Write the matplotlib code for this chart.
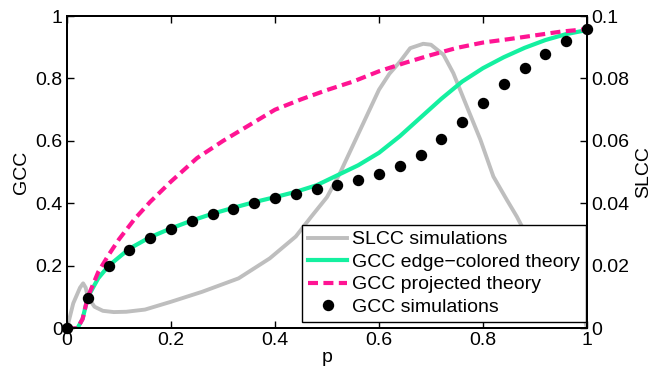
import matplotlib
matplotlib.use('Agg')
import matplotlib.pyplot as plt

plt.rcParams['font.family'] = ['Liberation Sans', 'DejaVu Sans']

# GCC simulations (left axis)
sim_p = [0, 0.04, 0.08, 0.12, 0.16, 0.20, 0.24, 0.28, 0.32, 0.36, 0.40, 0.44, 0.48,
         0.52, 0.56, 0.60, 0.64, 0.68, 0.72, 0.76, 0.80, 0.84, 0.88, 0.92, 0.96, 1.0]
sim_gcc = [0, 0.098, 0.20, 0.252, 0.289, 0.318, 0.343, 0.365, 0.383, 0.401, 0.417, 0.431, 0.446,
           0.458, 0.475, 0.495, 0.521, 0.555, 0.606, 0.661, 0.720, 0.782, 0.832, 0.879, 0.920, 0.958]

# GCC edge-colored theory
edge_p = [0, 0.02, 0.03, 0.04, 0.06, 0.08, 0.12, 0.16, 0.20, 0.24, 0.28, 0.32, 0.36, 0.40,
          0.44, 0.48, 0.52, 0.56, 0.60, 0.64, 0.68, 0.72, 0.76, 0.80, 0.84, 0.88, 0.92, 0.96, 1.0]
edge_gcc = [0, 0, 0.03, 0.10, 0.16, 0.20, 0.255, 0.292, 0.320, 0.345, 0.367, 0.386, 0.404, 0.420,
            0.437, 0.458, 0.490, 0.522, 0.562, 0.615, 0.675, 0.735, 0.790, 0.833, 0.868, 0.898, 0.923, 0.942, 0.955]

# GCC projected theory
proj_p = [0, 0.02, 0.03, 0.04, 0.06, 0.08, 0.10, 0.13, 0.16, 0.20, 0.25, 0.30, 0.35, 0.40,
          0.45, 0.50, 0.55, 0.60, 0.65, 0.70, 0.75, 0.80, 0.85, 0.90, 0.95, 1.0]
proj_gcc = [0, 0, 0.03, 0.10, 0.18, 0.235, 0.285, 0.35, 0.405, 0.47, 0.545, 0.60, 0.65, 0.70,
            0.733, 0.763, 0.79, 0.823, 0.85, 0.875, 0.898, 0.915, 0.926, 0.938, 0.95, 0.958]

# SLCC simulations (right axis)
slcc_p = [0, 0.012, 0.025, 0.031, 0.036, 0.04, 0.053, 0.069, 0.09, 0.114, 0.15, 0.20, 0.26,
          0.33, 0.39, 0.44, 0.47, 0.50, 0.525, 0.564, 0.60, 0.62, 0.64, 0.66, 0.685, 0.70, 0.724,
          0.743, 0.769, 0.795, 0.82, 0.846, 0.865, 0.88, 0.92, 0.95, 0.98, 0.993, 1.0]
slcc = [0, 0.008, 0.013, 0.0144, 0.013, 0.010, 0.0069, 0.0056, 0.0052, 0.0053, 0.006, 0.0085, 0.0117,
        0.016, 0.0224, 0.0294, 0.0358, 0.042, 0.0497, 0.0636, 0.0764, 0.0815, 0.0853, 0.0897, 0.0911, 0.0908, 0.0876,
        0.0817, 0.071, 0.0604, 0.0486, 0.0411, 0.0358, 0.031, 0.019, 0.012, 0.007, 0.0048, 0]

left_ticks = [0, 0.2, 0.4, 0.6, 0.8, 1]
left_labels = ['0', '0.2', '0.4', '0.6', '0.8', '1']
right_ticks = [0, 0.02, 0.04, 0.06, 0.08, 0.1]
right_labels = ['0', '0.02', '0.04', '0.06', '0.08', '0.1']

fig = plt.figure(figsize=(6.64, 3.73), dpi=100)
ax = fig.add_axes([0.1009, 0.1198, 0.7831, 0.8373])
ax2 = ax.twinx()
ax.set_zorder(ax2.get_zorder() + 1)
ax.patch.set_visible(False)

g, = ax2.plot(slcc_p, slcc, color='#bebebe', lw=2.8, label='SLCC simulations')
e, = ax.plot(edge_p, edge_gcc, color='#14f0a0', lw=3, label='GCC edge\u2212colored theory')
pr, = ax.plot(proj_p, proj_gcc, color='#ff1493', lw=3, ls=(0, (2.4, 1.3)), label='GCC projected theory')
s, = ax.plot(sim_p, sim_gcc, 'o', color='black', ms=7.2, label='GCC simulations', clip_on=False)

ax.set_xlim(0, 1)
ax.set_ylim(0, 1)
ax2.set_ylim(0, 0.1)
ax.set_xticks(left_ticks)
ax.set_xticklabels(left_labels)
ax.set_yticks(left_ticks)
ax.set_yticklabels(left_labels)
ax2.set_yticks(right_ticks)
ax2.set_yticklabels(right_labels)

ax.tick_params(direction='in', length=5, width=1, labelsize=14, pad=3, top=True)
ax2.tick_params(direction='in', length=5, width=1, labelsize=14, pad=3)
for a in (ax, ax2):
    for sp in a.spines.values():
        sp.set_linewidth(1.4)

ax.set_xlabel('p', fontsize=14, labelpad=0)
ax.set_ylabel('GCC', fontsize=14, labelpad=4)
ax2.set_ylabel('SLCC', fontsize=14, labelpad=4)

leg = ax.legend(handles=[g, e, pr, s], loc='upper left', bbox_to_anchor=(0.4524, 0.331),
                borderaxespad=0, fancybox=False, edgecolor='black', framealpha=1,
                fontsize=14, handlelength=2.0, handletextpad=0.25, labelspacing=0.25,
                borderpad=0.3, numpoints=1)
leg.get_frame().set_linewidth(1.0)

fig.savefig('out.png', dpi=100)
